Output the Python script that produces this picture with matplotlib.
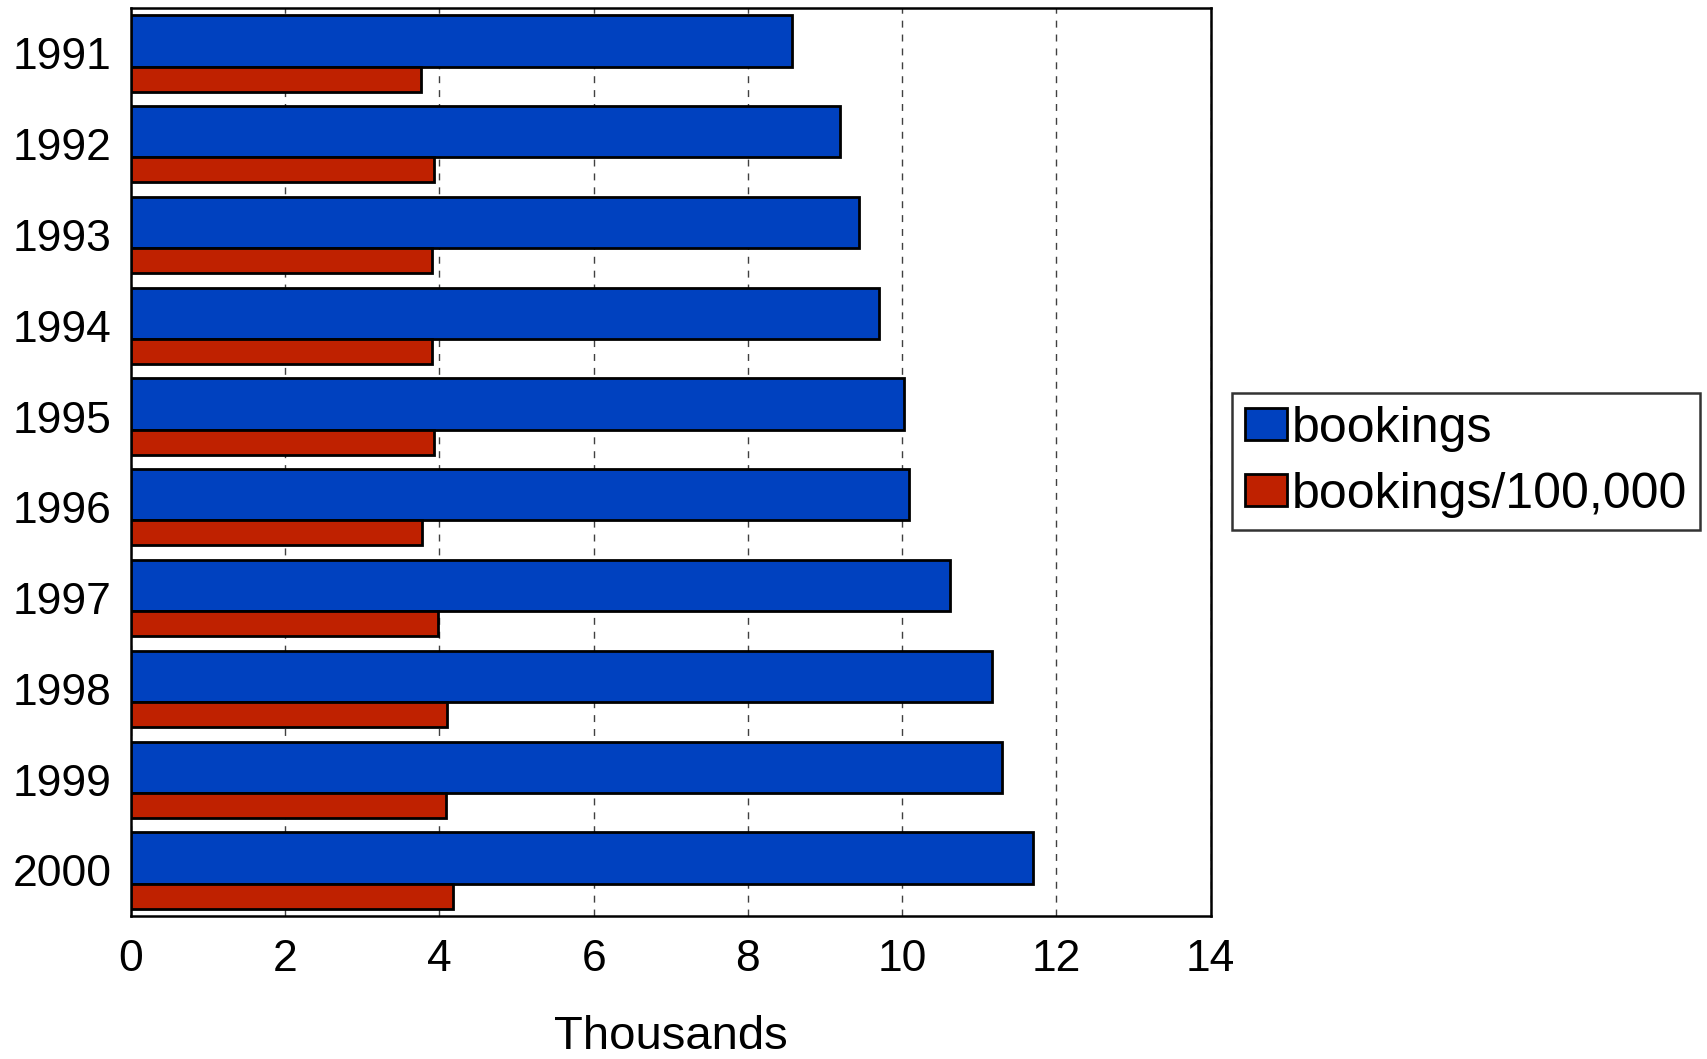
import numpy as np
import matplotlib.pyplot as plt

plt.rcParams['font.family'] = ['Liberation Sans', 'DejaVu Sans']

years = ['1991', '1992', '1993', '1994', '1995', '1996', '1997', '1998', '1999', '2000']
bookings = [8.57, 9.20, 9.44, 9.70, 10.02, 10.09, 10.62, 11.16, 11.29, 11.70]
per_100k = [3.76, 3.93, 3.91, 3.91, 3.93, 3.77, 3.98, 4.10, 4.08, 4.17]

blue = '#0041BF'
red = '#BF2100'

fig = plt.figure(figsize=(17.07, 10.59), dpi=100)
ax = fig.add_axes([0.0767, 0.1352, 0.6325, 0.8572])

y = np.arange(len(years))
h_blue = 0.564
h_red = 0.276
top = -0.42
ax.barh(y + top + h_blue / 2, bookings, height=h_blue, color=blue,
        edgecolor='black', linewidth=2.0, label='bookings', zorder=3)
ax.barh(y + top + h_blue + h_red / 2, per_100k, height=h_red, color=red,
        edgecolor='black', linewidth=2.0, label='bookings/100,000', zorder=3)

ax.set_xlim(0, 14)
ax.set_ylim(len(years) - 0.5, -0.5)
ax.set_xticks(np.arange(0, 15, 2))
ax.set_yticks(y)
ax.set_yticklabels(years)
ax.tick_params(axis='x', length=0, pad=17, labelsize=32)
ax.tick_params(axis='y', length=0, pad=14, labelsize=32)
ax.xaxis.grid(True, linestyle=(0, (5, 5)), color='#404040', linewidth=1.0, zorder=0)
ax.set_axisbelow(True)
for s in ax.spines.values():
    s.set_linewidth(1.8)

ax.set_xlabel('Thousands', fontsize=34, labelpad=25)

leg = ax.legend(loc='center left', bbox_to_anchor=(1.02, 0.5), fontsize=36,
                frameon=True, fancybox=False, edgecolor='black',
                handlelength=0.85, handleheight=0.6, handletextpad=0.1,
                borderpad=0.25, borderaxespad=0, labelspacing=0.4)
leg.get_frame().set_linewidth(1.8)
for p in leg.get_patches():
    p.set_linewidth(2.0)

fig.savefig('out.png', dpi=100)
